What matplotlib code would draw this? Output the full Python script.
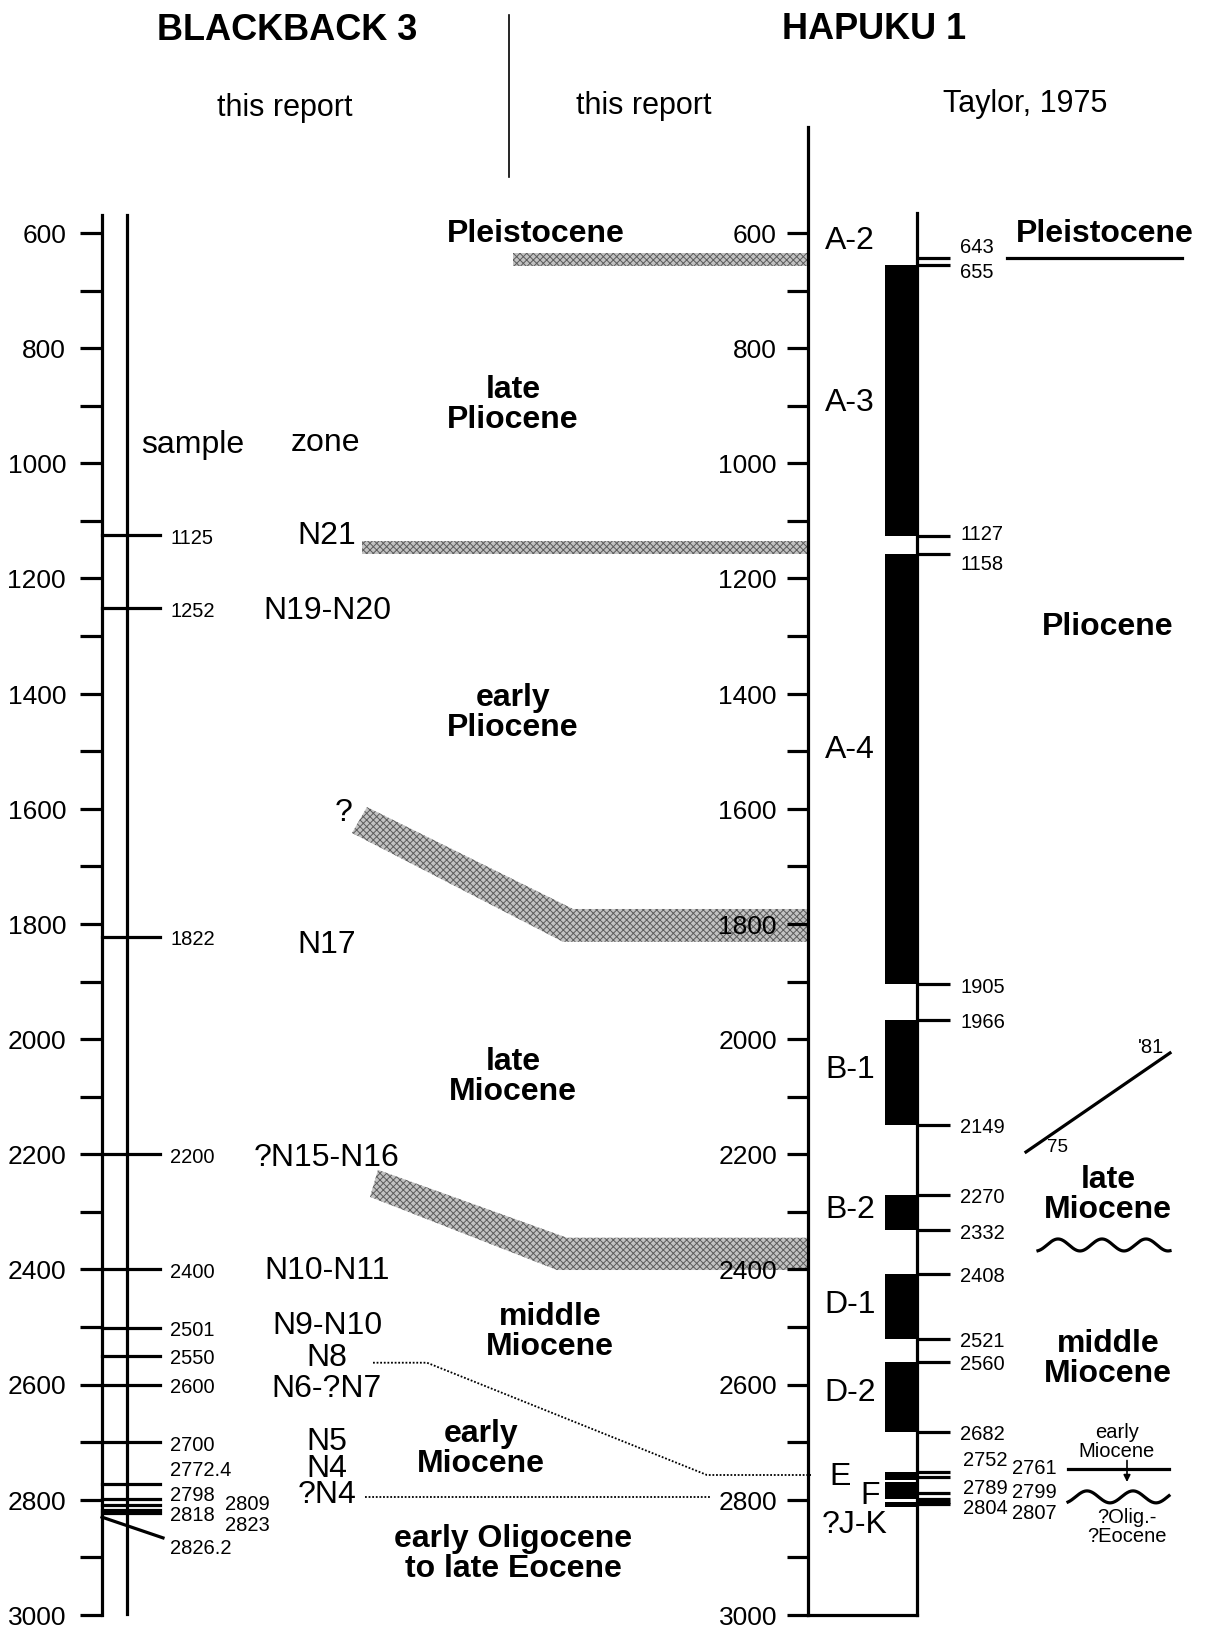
import numpy as np
import matplotlib
matplotlib.use("Agg")
import matplotlib.pyplot as plt

plt.rcParams['font.family'] = ['Liberation Sans', 'DejaVu Sans']
plt.rcParams['hatch.linewidth'] = 0.7

# ---- data (depths in metres) ----
depth_ticks = list(range(600, 3001, 100))
depth_labels = list(range(600, 3001, 200))

# Blackback 3
bb_samples = [1125, 1252, 1822, 2200, 2400, 2501, 2550, 2600, 2700,
              2772.4, 2798, 2809, 2818, 2823, 2826.2]
bb_zones = ["N21", "N19-N20", "N17", "?N15-N16", "N10-N11", "N9-N10",
            "N8", "N6-?N7", "N5", "N4", "?N4"]
bb_zone_depths = [1121, 1251, 1831, 2201, 2398, 2493, 2549, 2602, 2694, 2741, 2787]

# Hapuku 1
hp_units = ["A-2", "A-3", "A-4", "B-1", "B-2", "D-1", "D-2", "E", "F", "?J-K"]
hp_unit_depths = [609, 890, 1493, 2048, 2292, 2457, 2609, 2755, 2788, 2839]
hp_picks = [643, 655, 1127, 1158, 1905, 1966, 2149, 2270, 2332, 2408,
            2521, 2560, 2682, 2752, 2761, 2789, 2799, 2804, 2807]
hp_black_top = [655, 1158, 1966, 2270, 2408, 2560, 2752, 2769, 2804]
hp_black_base = [1127, 1905, 2149, 2332, 2521, 2682, 2766, 2799, 2812]

# epochs, this report
epochs_mid = ["Pleistocene", "late\nPliocene", "early\nPliocene", "late\nMiocene",
              "middle\nMiocene", "early\nMiocene", "early Oligocene\nto late Eocene"]
epochs_mid_depths = [597, 894, 1428, 2060, 2503, 2707, 2890]
# epochs, Taylor 1975
epochs_taylor = ["Pleistocene", "Pliocene", "late\nMiocene", "middle\nMiocene"]
epochs_taylor_depths = [597, 1279, 2266, 2551]

# correlation bands (flat: top/base; bent: left top/base, right top/base)
band_flat = [(635, 657), (1135, 1158)]
band_bent = [(1597, 1642, 1774, 1831), (2227, 2274, 2345, 2401)]

D_TOP = 600 - 233 / 0.5758
D_BOT = 600 + (1632 - 233) / 0.5758

fig = plt.figure(figsize=(12.1, 16.32), dpi=100)
ax = fig.add_axes([0, 0, 1, 1])
ax.set_xlim(0, 1210)
ax.set_ylim(D_BOT, D_TOP)
ax.axis('off')

LW = 2.3
FS_TICK = 19
FS_SMALL = 14.5
FS_TXT = 23


def txt(x, d, s, **kw):
    # va='center' counts the descent, nudge down a little
    kw.setdefault('ha', 'center')
    ax.text(x, d + 5, s, va='center', **kw)


# ---- headers ----
txt(287, 244, "BLACKBACK 3", fontsize=26, fontweight='bold')
txt(874, 241, "HAPUKU 1", fontsize=26, fontweight='bold')
txt(285, 378, "this report", fontsize=22)
txt(644, 374, "this report", fontsize=22)
txt(1025, 371, "Taylor, 1975", fontsize=22)
ax.plot([509, 509], [221, 503], color='k', lw=1.2)

# ---- Blackback 3 column ----
ax.plot([102, 102], [569, 3000], color='k', lw=LW)
ax.plot([127, 127], [569, 2998], color='k', lw=LW)
ax.hlines(depth_ticks, 80, 102, color='k', lw=LW)
for d in depth_labels:
    txt(66, d, str(d), fontsize=FS_TICK, ha='right')
txt(193, 963, "sample", fontsize=FS_TXT)
txt(325, 960, "zone", fontsize=FS_TXT)

bb_label_pos = {2772.4: (170, 2745), 2798: (170, 2788), 2809: (225, 2804),
                2818: (170, 2823), 2823: (225, 2840), 2826.2: (170, 2879)}
for d in bb_samples:
    if d == 2826.2:
        ax.plot([102, 163], [d + 4, d + 40], color='k', lw=LW)
    else:
        ax.plot([102, 160], [d, d], color='k', lw=LW)
    x, y = bb_label_pos.get(d, (170, d))
    txt(x, y, f"{d:g}", fontsize=FS_SMALL, ha='left')

for name, d in zip(bb_zones, bb_zone_depths):
    txt(327, d, name, fontsize=FS_TXT)
txt(344, 1602, "?", fontsize=FS_TXT)

# ---- correlation bands ----
band_kw = dict(facecolor='#c2c2c2', edgecolor='#5c5c5c', hatch='xxxxx', lw=0)
ax.fill([513, 810, 810, 513], [band_flat[0][0]] * 2 + [band_flat[0][1]] * 2, **band_kw)
ax.fill([362, 810, 810, 362], [band_flat[1][0]] * 2 + [band_flat[1][1]] * 2, **band_kw)
for (a, b, c, e), (xl, xb) in zip(band_bent, [((367, 352), (573, 563)), ((378, 370), (567, 557))]):
    ax.fill([xl[0], xb[0], 810, 810, xb[1], xl[1]], [a, c, c, e, e, b], **band_kw)

# dotted correlations
ax.plot([373, 427, 707, 811], [2562, 2562, 2757, 2757], color='k', lw=1.3, ls=(0, (1, 1)))
ax.plot([365, 710], [2795, 2795], color='k', lw=1.3, ls=(0, (1, 1)))

for name, d in zip(epochs_mid, epochs_mid_depths):
    x = {"middle\nMiocene": 550, "early\nMiocene": 481, "Pleistocene": 536}.get(name, 513)
    txt(x, d, name, fontsize=FS_TXT, fontweight='bold', linespacing=1.0)

# ---- Hapuku 1 column ----
ax.plot([808, 808], [416, 3000], color='k', lw=LW)
ax.plot([917, 917], [565, 3000], color='k', lw=LW)
ax.plot([808, 917], [3000, 3000], color='k', lw=LW)
ax.hlines(depth_ticks, 787, 808, color='k', lw=LW)
for d in depth_labels:
    txt(777, d, str(d), fontsize=FS_TICK, ha='right')

ax.bar([901] * len(hp_black_top),
       [b - t for t, b in zip(hp_black_top, hp_black_base)],
       bottom=hp_black_top, width=32, color='k', lw=0)

for name, d in zip(hp_units, hp_unit_depths):
    x = {"E": 840, "F": 870, "?J-K": 855}.get(name, 850)
    txt(x, d, name, fontsize=FS_TXT)

ax.hlines(hp_picks, 917, 950, color='k', lw=LW)
hp_label_pos = {643: (960, 621), 655: (960, 664), 1127: (960, 1119), 1158: (960, 1170),
                2752: (963, 2727), 2761: (1012, 2740), 2789: (963, 2776),
                2799: (1012, 2783), 2804: (963, 2811), 2807: (1012, 2818)}
for d in hp_picks:
    x, y = hp_label_pos.get(d, (960, d))
    txt(x, y, str(d), fontsize=FS_SMALL, ha='left')

# ---- Taylor 1975 column ----
for name, d in zip(epochs_taylor, epochs_taylor_depths):
    x = 1105 if name == "Pleistocene" else 1108
    txt(x, d, name, fontsize=FS_TXT, fontweight='bold', linespacing=1.0)
ax.plot([1007, 1182], [643, 643], color='k', lw=LW)
ax.plot([1026, 1170], [2196, 2024], color='k', lw=LW)
txt(1058, 2184, "75", fontsize=13.5)
txt(1151, 2010, "'81", fontsize=FS_SMALL)

xw = np.linspace(1038, 1170, 300)
ax.plot(xw, 2357.5 - 10.4 * np.sin(2 * np.pi * (xw - 1047) / 44), color='k', lw=LW)
xw2 = np.linspace(1068, 1169, 300)
ax.plot(xw2, 2795 - 10.4 * np.sin(2 * np.pi * (xw2 - 1075.5) / 46), color='k', lw=LW)

txt(1117, 2694, "early\nMiocene", fontsize=14.5, linespacing=1.0)
ax.plot([1068, 1169], [2747, 2747], color='k', lw=LW)
ax.annotate('', xy=(1127, 2774), xytext=(1127, 2727),
            arrowprops=dict(arrowstyle='-|>', lw=1.2, color='k', mutation_scale=10))
txt(1127, 2842, "?Olig.-\n?Eocene", fontsize=14.5, linespacing=1.0)

fig.savefig("out.png", dpi=100)
